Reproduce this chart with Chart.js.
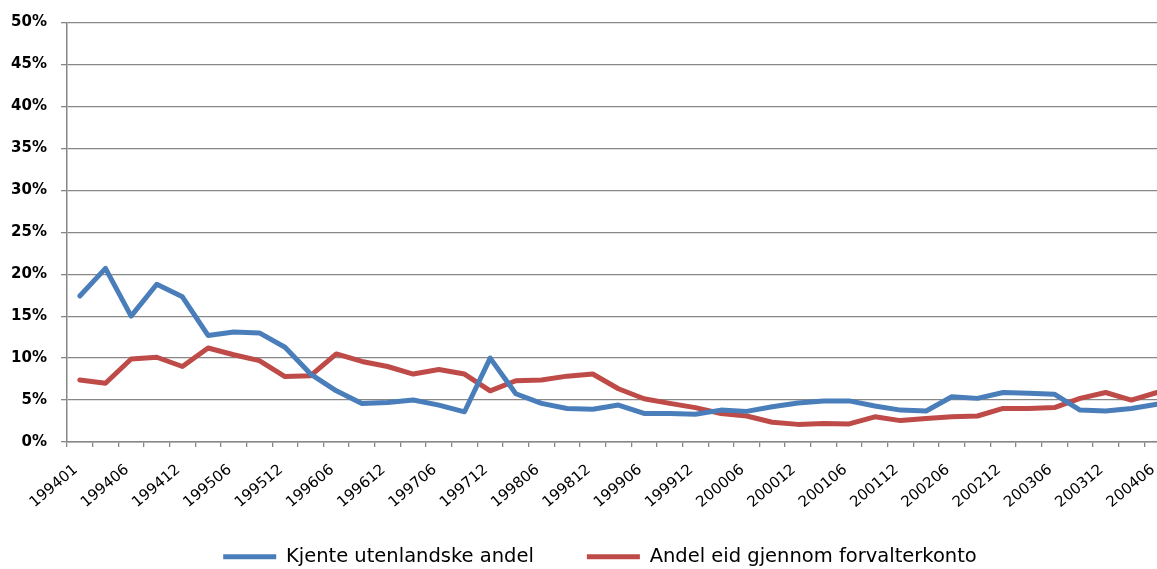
<!DOCTYPE html>
<html>
<head>
<meta charset="utf-8">
<script src="https://cdn.jsdelivr.net/npm/chart.js@4/dist/chart.umd.min.js"></script>
<style>
  html, body { margin: 0; padding: 0; background: #fff; overflow: hidden; width: 1157px; height: 569px; }
  canvas { display: block; }
</style>
</head>
<body>
<canvas id="c" width="1200" height="569"></canvas>
<script>
const categories = [
  '199401','199403','199406','199409','199412',
  '199503','199506','199509','199512',
  '199603','199606','199609','199612',
  '199703','199706','199709','199712',
  '199803','199806','199809','199812',
  '199903','199906','199909','199912',
  '200003','200006','200009','200012',
  '200103','200106','200109','200112',
  '200203','200206','200209','200212',
  '200303','200306','200309','200312',
  '200403','200406'
];
const kjenteUtenlandske = [
  17.4, 20.7, 15.0, 18.8, 17.3,
  12.7, 13.1, 13.0, 11.3,
  8.1, 6.1, 4.6, 4.7,
  5.0, 4.4, 3.6, 10.0,
  5.75, 4.6, 4.0, 3.9,
  4.4, 3.4, 3.4, 3.3,
  3.8, 3.65, 4.2, 4.65,
  4.9, 4.9, 4.3, 3.8,
  3.7, 5.4, 5.2, 5.9,
  5.8, 5.7, 3.8, 3.7,
  4.0, 4.5
];
const forvalterkonto = [
  7.4, 7.0, 9.9, 10.1, 9.0,
  11.2, 10.4, 9.7, 7.8,
  7.9, 10.5, 9.6, 9.0,
  8.1, 8.65, 8.1, 6.1,
  7.3, 7.4, 7.85, 8.1,
  6.35, 5.15, 4.6, 4.1,
  3.4, 3.1, 2.35, 2.1,
  2.2, 2.15, 3.0, 2.55,
  2.8, 3.0, 3.1, 4.0,
  4.0, 4.1, 5.2, 5.9,
  5.0, 5.9
];
const seriesNames = ['Kjente utenlandske andel', 'Andel eid gjennom forvalterkonto'];
const yTicks = [0, 5, 10, 15, 20, 25, 30, 35, 40, 45, 50];

const FONT = '"DejaVu Sans", sans-serif';
const GRID = '#878787';
const LEGEND_TOP = 494;

const legendShift = {
  id: 'legendShift',
  afterLayout(chart) {
    const l = chart.legend;
    if (!l) return;
    l.top = LEGEND_TOP;
    l.height = l.bottom - l.top;
  }
};

new Chart(document.getElementById('c'), {
  type: 'line',
  data: {
    labels: categories,
    datasets: [
      {
        label: seriesNames[0],
        data: kjenteUtenlandske,
        borderColor: '#4A7EBB',
        backgroundColor: '#4A7EBB',
        borderWidth: 5,
        pointRadius: 0,
        borderCapStyle: 'round',
        borderJoinStyle: 'round',
        tension: 0
      },
      {
        label: seriesNames[1],
        data: forvalterkonto,
        borderColor: '#BE4B48',
        backgroundColor: '#BE4B48',
        borderWidth: 5,
        pointRadius: 0,
        borderCapStyle: 'round',
        borderJoinStyle: 'round',
        tension: 0
      }
    ]
  },
  plugins: [legendShift],
  options: {
    responsive: false,
    animation: false,
    layout: { padding: { top: 22.5, left: 0, right: 0, bottom: 0 } },
    plugins: {
      tooltip: { enabled: false },
      legend: {
        position: 'bottom',
        maxHeight: 40,
        labels: {
          usePointStyle: true,
          pointStyle: 'line',
          pointStyleWidth: 53,
          padding: 53,
          color: '#000',
          font: { family: FONT, size: 19.5 }
        }
      }
    },
    scales: {
      x: {
        offset: true,
        grid: {
          offset: true,
          drawOnChartArea: false,
          drawTicks: true,
          tickLength: 5,
          color: GRID,
          lineWidth: 1.3
        },
        border: { color: GRID, width: 1.5 },
        ticks: {
          autoSkip: false,
          minRotation: 40,
          maxRotation: 40,
          padding: 14,
          labelOffset: -4,
          color: '#000',
          font: { family: FONT, size: 15 },
          callback: (v, i) => (i % 2 === 0 ? categories[i] : '')
        },
        afterFit: (s) => { s.height = 87; s.paddingLeft = 0; s.paddingRight = 30.2; }
      },
      y: {
        min: 0,
        max: 50,
        afterBuildTicks: (s) => { s.ticks = yTicks.map(v => ({ value: v })); },
        grid: {
          color: GRID,
          lineWidth: 1.3,
          drawTicks: true,
          tickLength: 6
        },
        border: { color: GRID, width: 1.5 },
        ticks: {
          padding: 14,
          color: '#000',
          font: { family: FONT, size: 15, weight: 'bold' },
          callback: (v) => v + '%'
        },
        afterFit: (s) => { s.width = 67; s.paddingTop = 0; s.paddingBottom = 0; }
      }
    }
  }
});
</script>
</body>
</html>
